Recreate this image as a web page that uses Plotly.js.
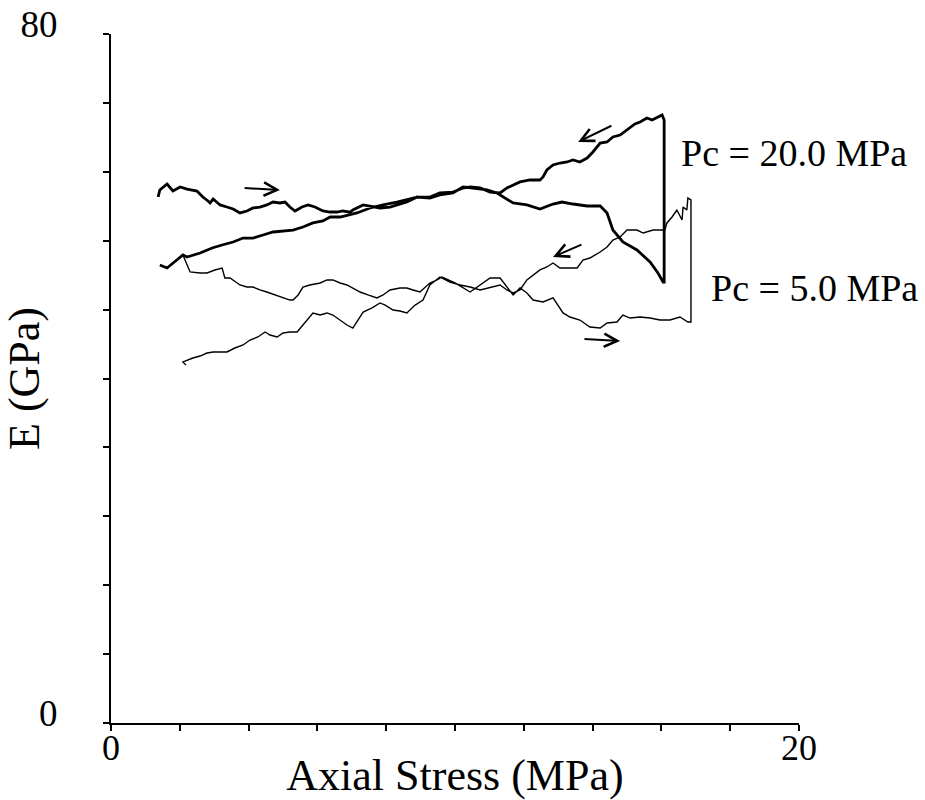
<!DOCTYPE html>
<html>
<head>
<meta charset="utf-8">
<script src="https://cdn.plot.ly/plotly-3.0.1.min.js"></script>
<style>html,body{margin:0;padding:0;background:#fff;}#chart{width:925px;height:800px;}</style>
</head>
<body>
<div id="chart"></div>
<script>
// Pc = 20.0 MPa loop (loading -> jump -> unloading)
const pc20Stress = [1.37,1.42,1.63,1.72,1.80,2.01,2.21,2.50,2.67,2.82,2.88,2.97,3.17,3.37,3.55,3.75,3.95,4.13,4.33,4.53,4.71,4.91,5.06,5.20,5.35,5.55,5.73,5.93,6.16,6.37,6.57,6.74,6.95,7.03,7.33,7.82,8.11,8.60,8.90,9.27,9.56,9.94,10.23,10.52,10.93,11.22,11.40,11.69,12.09,12.47,12.85,13.11,13.43,13.84,14.22,14.42,14.59,14.88,15.29,15.67,15.90,16.05,16.08,16.08,16.08,16.02,
  15.87,15.73,15.58,15.38,15.23,15.00,14.80,14.59,14.42,14.22,14.01,13.84,13.63,13.43,13.26,13.05,12.85,12.67,12.56,12.47,12.18,11.89,11.51,11.31,11.02,10.73,10.44,10.23,9.94,9.56,9.27,8.90,8.60,8.31,7.91,7.53,7.15,6.86,6.66,6.37,6.16,5.87,5.58,5.29,5.00,4.71,4.42,4.13,3.84,3.55,3.23,2.94,2.59,2.21,2.09,1.80,1.63,1.42];
const pc20E = [61.07,61.89,62.58,62.12,61.77,62.24,62.00,61.77,61.07,60.61,60.38,60.84,60.15,59.91,59.68,59.22,59.45,59.80,59.91,60.15,60.49,60.38,60.49,59.91,59.45,59.91,60.15,59.91,59.45,59.33,59.33,59.45,59.33,59.56,60.15,59.80,59.91,60.49,61.07,60.96,61.31,61.54,62.24,62.12,61.89,61.54,61.07,60.38,60.15,59.68,60.26,60.49,60.26,60.03,60.03,59.22,57.24,55.85,54.92,53.53,52.25,51.20,51.20,69.43,70.01,70.60,
  70.25,70.01,70.25,69.78,69.55,68.85,68.27,68.04,67.46,67.34,66.30,65.60,65.14,65.37,65.14,65.02,64.79,64.21,63.40,63.05,63.05,62.82,62.12,61.54,61.65,62.12,62.24,62.12,61.65,61.54,61.07,61.07,60.73,60.49,60.15,59.80,59.22,58.98,58.75,58.75,58.29,58.06,57.59,57.24,57.13,57.01,56.66,56.31,56.31,55.85,55.50,55.15,54.57,54.11,54.34,53.41,52.83,53.18];

// Pc = 5.0 MPa loop (loading -> jump -> unloading)
const pc5Stress = [2.09,2.18,2.30,2.59,2.79,3.02,3.23,3.31,3.46,3.75,3.95,4.13,4.33,4.53,4.77,5.00,5.20,5.29,5.44,5.58,5.78,6.08,6.28,6.45,6.66,6.86,7.03,7.24,7.47,7.73,7.91,8.11,8.40,8.60,8.78,8.98,9.27,9.48,9.62,10.00,10.44,10.73,11.02,11.31,11.51,11.69,11.89,12.09,12.27,12.56,12.85,12.99,13.14,13.34,13.63,13.92,14.22,14.42,14.71,14.88,15.09,15.38,15.67,15.96,16.25,16.54,16.77,16.86,16.86,
  16.77,16.74,16.63,16.60,16.45,16.31,16.16,16.10,16.05,15.76,15.47,15.29,15.00,14.80,14.59,14.42,14.22,13.92,13.72,13.55,13.26,13.05,12.85,12.67,12.47,12.27,12.09,11.89,11.69,11.51,11.31,10.73,10.44,10.15,9.85,9.56,
  9.27,9.07,8.84,8.60,8.40,8.20,7.97,7.82,7.59,7.33,7.18,7.03,6.86,6.66,6.45,6.28,6.08,5.87,5.64,5.41,5.20,5.00,4.83,4.62,4.48,4.27,4.04,3.84,3.60,3.37,3.17,2.97,2.79,2.59,2.38,2.21,2.09,2.18];
const pc5E = [54.34,53.53,52.37,52.25,52.25,52.60,52.83,51.67,51.67,50.86,50.62,50.62,50.28,50.04,49.70,49.35,49.11,49.11,49.70,50.62,50.86,51.09,51.44,51.44,51.09,50.86,50.51,50.04,49.70,49.35,49.70,50.28,50.51,50.51,50.28,50.04,51.09,51.44,51.79,51.09,50.04,50.86,51.67,51.67,50.62,49.70,50.51,49.93,49.11,48.88,49.35,48.53,47.61,47.14,46.79,45.98,45.86,46.44,46.56,47.37,47.02,47.14,47.02,46.79,46.79,47.14,46.56,46.56,60.73,
  60.96,59.56,59.91,58.40,59.56,58.75,58.06,57.24,57.24,57.24,56.89,57.24,57.24,56.43,56.08,55.27,54.69,53.99,53.76,52.83,52.83,52.83,53.41,52.95,52.60,52.02,51.44,50.28,49.93,50.28,50.86,50.28,50.62,50.86,51.20,51.79,
  50.86,49.11,48.53,47.61,47.84,47.95,48.53,48.77,48.19,47.72,46.79,45.86,46.21,46.79,47.37,47.61,47.37,47.61,46.56,45.40,45.40,45.28,44.82,45.05,45.40,44.82,44.47,43.89,43.54,43.08,43.08,43.08,42.96,42.61,42.38,42.15,41.92,41.57];

// Axis ticks
const xTickVals = [0,2,4,6,8,10,12,14,16,18,20];
const xTickText = ['0','','','','','','','','','','20'];
const yTickVals = [0,8,16,24,32,40,48,56,64,72,80];
const yTickText = ['0','','','','','','','','','','80'];

// Labels and direction arrows: [tailX, tailY, tipX, tipY]
const curveLabels = [
  {text: 'Pc = 20.0 MPa', x: 16.50, y: 66.18},
  {text: 'Pc = 5.0 MPa',  x: 17.38, y: 50.51}
];
const arrows = [
  [3.84, 62.12, 4.91, 61.89],
  [14.59, 69.43, 13.58, 67.46],
  [13.72, 55.62, 12.85, 54.11],
  [13.72, 44.59, 14.80, 44.35]
];

const serif = 'Liberation Serif';

const traces = [
  {x: pc20Stress, y: pc20E, mode: 'lines', type: 'scatter', name: 'Pc = 20.0 MPa',
   line: {color: '#000', width: 2.8}, hoverinfo: 'skip'},
  {x: pc5Stress, y: pc5E, mode: 'lines', type: 'scatter', name: 'Pc = 5.0 MPa',
   line: {color: '#000', width: 1.4}, hoverinfo: 'skip'}
];

const annotations = [];
curveLabels.forEach(l => annotations.push({
  x: l.x, y: l.y, xref: 'x', yref: 'y', text: l.text, showarrow: false,
  xanchor: 'left', yanchor: 'middle', font: {family: serif, size: 38, color: '#000'}
}));
arrows.forEach(a => annotations.push({
  x: a[2], y: a[3], ax: a[0], ay: a[1], xref: 'x', yref: 'y', axref: 'x', ayref: 'y',
  text: '', showarrow: true, arrowhead: 5, arrowsize: 1.3, arrowwidth: 2, arrowcolor: '#000'
}));

const layout = {
  width: 925, height: 800,
  margin: {l: 111, r: 126, t: 34, b: 77},
  paper_bgcolor: '#fff', plot_bgcolor: '#fff',
  showlegend: false,
  font: {family: serif, color: '#000'},
  xaxis: {
    range: [0, 20], tickmode: 'array', tickvals: xTickVals, ticktext: xTickText,
    ticks: 'outside', ticklen: 6, tickwidth: 2, tickcolor: '#000',
    showline: true, linewidth: 2, linecolor: '#000', showgrid: false, zeroline: false,
    tickfont: {family: serif, size: 36, color: '#000'},
    ticklabelstandoff: -14,
    title: {text: 'Axial Stress (MPa)', font: {family: serif, size: 44, color: '#000'}, standoff: 0},
    fixedrange: true
  },
  yaxis: {
    range: [0, 80], tickmode: 'array', tickvals: yTickVals, ticktext: yTickText,
    ticks: 'outside', ticklen: 6, tickwidth: 2, tickcolor: '#000',
    showline: true, linewidth: 2, linecolor: '#000', showgrid: false, zeroline: false,
    tickfont: {family: serif, size: 37, color: '#000'},
    ticklabelstandoff: 38, ticklabelshift: -10,
    title: {text: 'E (GPa)', font: {family: serif, size: 44, color: '#000'}, standoff: 0},
    fixedrange: true
  },
  annotations: annotations
};

Plotly.newPlot('chart', traces, layout, {displayModeBar: false, staticPlot: true});
</script>
</body>
</html>
